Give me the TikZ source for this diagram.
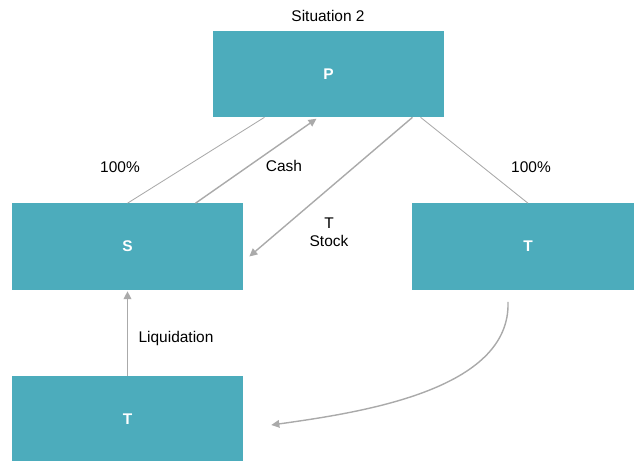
\documentclass[tikz,border=0pt]{standalone}
\usepackage{fontspec}
\setmainfont{Liberation Sans}
\usetikzlibrary{arrows.meta, calc}

\definecolor{boxteal}{RGB}{76,172,188}
\definecolor{linegray}{RGB}{170,170,170}

\begin{document}
\begin{tikzpicture}[
    x=0.025cm, y=-0.025cm,
    box/.style={fill=boxteal, minimum width=5.775cm, minimum height=2.15cm, inner sep=0pt, text=white, font=\fontsize{11}{13}\selectfont\bfseries},
    lbl/.style={font=\fontsize{11}{13}\selectfont, align=center},
    thin line/.style={draw=linegray, line width=0.6pt},
    ar/.style={draw=linegray, line width=1pt, -{Triangle[length=2mm, width=1.9mm]}}
]
\useasboundingbox (0,0) rectangle (634,461);
% boxes
\node[box] (p) at (328.5,74) {P};
\node[box] (s) at (127.5,246.5) {S};
\node[box] (tr) at (528,246.5) {T};
\node[box] (tb) at (127.5,419) {T};
% title
\node[lbl] (title) at (328,16) {Situation 2};
% ownership lines
\draw[thin line] (s.north) -- ([xshift=-1.6cm]p.south);
\draw[thin line] ([xshift=2.3cm]p.south) -- (tr.north);
\node[lbl] (pctl) at (120,167) {100\%};
\node[lbl] (pctr) at (531,167) {100\%};
% transfers
\draw[ar] ([xshift=1.7cm]s.north) -- ([xshift=-0.3cm,yshift=-1pt]p.south);
\node[lbl] (cash) at (284,166) {Cash};
\draw[ar] ([xshift=2.1cm]p.south) -- ([xshift=0.15cm,yshift=-0.25cm]s.east);
\node[lbl] (stock) at (329,232) {T\\Stock};
\draw[ar] (tb.north) -- ([yshift=-1pt]s.south);
\node[lbl] (liq) at (176,338) {Liquidation};
\draw[ar] ([xshift=-0.5cm,yshift=-0.3cm]tr.south) to[out=-88, in=8, looseness=0.85] ([xshift=0.7cm,yshift=-0.15cm]tb.east);
\end{tikzpicture}
\end{document}
